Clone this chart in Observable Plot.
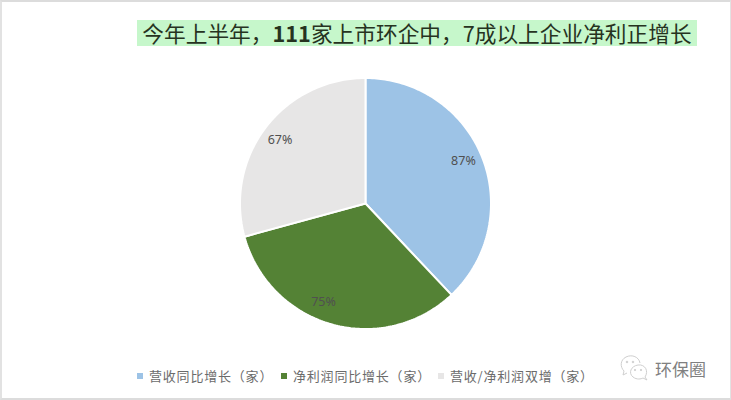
<!DOCTYPE html>
<html><head><meta charset="utf-8">
<script src="https://cdn.jsdelivr.net/npm/d3@7"></script>
<script src="https://cdn.jsdelivr.net/npm/@observablehq/plot@0.6"></script>
<style>
html,body{margin:0;padding:0;background:#fff;}
#wrap{position:relative;width:731px;height:400px;overflow:hidden;font-family:"Noto Sans CJK SC","Noto Sans",sans-serif;}
#wrap svg.main{position:absolute;left:0;top:0;}
#frame{position:absolute;left:0;top:0;width:731px;height:400px;box-sizing:border-box;border-top:2px solid #dcdcdc;border-left:2px solid #e2e2e2;border-right:1px solid #e2e2e2;border-bottom:2px solid #dcdcdc;pointer-events:none;}
#title{position:absolute;left:137px;top:20px;width:560px;height:26px;line-height:26px;background:#c6f7cb;color:#26331f;font-size:21.7px;text-align:center;white-space:nowrap;}
.lg{position:absolute;top:367px;font-size:13px;letter-spacing:.8px;line-height:18px;color:#6b6b6b;white-space:nowrap;}
.sw{position:absolute;top:373px;width:6px;height:6px;}
#mark{position:absolute;left:655px;top:357px;font-size:17px;line-height:24px;color:#808080;}
#icon{position:absolute;left:619px;top:354px;}
</style></head><body>
<div id="wrap">
<div id="title">今年上半年，<b>111</b>家上市环企中，7成以上企业净利正增长</div>
<div id="chart"></div>
<div id="legend"></div>
<svg id="icon" width="30" height="28" viewBox="0 0 30 28" fill="none" stroke="#cfcfcf" stroke-width="1">
<path d="M5 17 C1 13 1 6 7 3 C13 0 20 3 21 9 M5 17 L4 21 L8 19"/>
<path d="M26 23 C30 17 26 10 19 11 C12 12 9 19 14 23 C18 26 22 25 24 24 L28 26 Z" fill="#fff"/>
<circle cx="8" cy="8" r=".8" fill="#cfcfcf"/><circle cx="14" cy="8" r=".8" fill="#cfcfcf"/>
<circle cx="16" cy="16" r=".7" fill="#cfcfcf"/><circle cx="22" cy="16" r=".7" fill="#cfcfcf"/></svg>
<div id="mark">环保圈</div>
<div id="frame"></div>
</div>
<script>
const categories = ["营收同比增长（家）", "净利润同比增长（家）", "营收/净利润双增（家）"];
const counts = [87, 75, 67];
const percentLabels = ["87%", "75%", "67%"];
const colors = ["#9dc3e6", "#548235", "#e7e6e6"];
const legendSwatchX = [137, 281, 438];
const legendTextX = [149, 293, 450];

const arcs = d3.pie().sort(null)(counts);
const outline = arcs.flatMap((a, i) => {
  const n = Math.ceil((a.endAngle - a.startAngle) * 180 / Math.PI);
  const pts = [{i, x: 0, y: 0}];
  for (let k = 0; k <= n; k++) {
    const t = a.startAngle + (a.endAngle - a.startAngle) * k / n;
    pts.push({i, x: Math.sin(t), y: Math.cos(t)});
  }
  pts.push({i, x: 0, y: 0});
  return pts;
});
// Excel nudged the middle label along the rim
const labelNudge = [-0.03, 0.13, -0.01];
const labels = arcs.map((a, i) => {
  const t = (a.startAngle + a.endAngle) / 2 + labelNudge[i];
  return {x: 0.85 * Math.sin(t), y: 0.85 * Math.cos(t), text: percentLabels[i]};
});

const chart = Plot.plot({
  width: 731, height: 400,
  marginLeft: 239.5, marginRight: 240.5, marginTop: 77.5, marginBottom: 71.5,
  x: {domain: [-1, 1], axis: null},
  y: {domain: [-1, 1], axis: null},
  color: {domain: [0, 1, 2], range: colors},
  style: {background: "transparent", overflow: "visible"},
  marks: [
    Plot.line(outline, {x: "x", y: "y", z: "i", fill: "i", stroke: "#fff", strokeWidth: 2, strokeLinejoin: "miter"}),
    Plot.text(labels, {x: "x", y: "y", text: "text", fontSize: 12.5, fill: "#505050", fontFamily: "Noto Sans, sans-serif"})
  ]
});
chart.classList.add("main");
document.getElementById("chart").append(chart);

const lg = document.getElementById("legend");
categories.forEach((c, i) => {
  const s = document.createElement("div");
  s.className = "sw"; s.style.left = legendSwatchX[i] + "px"; s.style.background = colors[i];
  const t = document.createElement("div");
  t.className = "lg"; t.style.left = legendTextX[i] + "px"; t.textContent = c;
  lg.append(s, t);
});
</script>
</body></html>
